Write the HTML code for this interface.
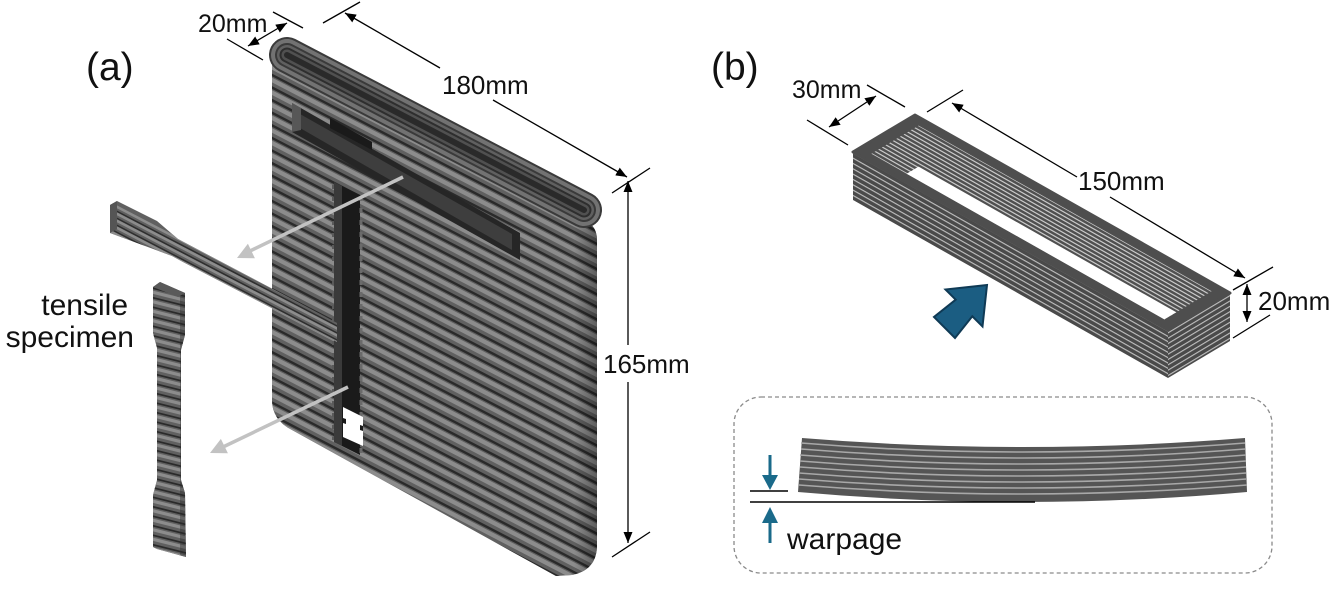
<!DOCTYPE html>
<html><head><meta charset="utf-8"><style>
html,body{margin:0;padding:0;background:#fff;}
svg{display:block;}
text{font-family:"Liberation Sans",Arial,sans-serif;fill:#111;}
</style></head><body>
<svg width="1339" height="595" viewBox="0 0 1339 595" xmlns="http://www.w3.org/2000/svg">
<defs>
  <pattern id="pRing" patternUnits="userSpaceOnUse" width="40" height="5.33" patternTransform="skewY(29.5)">
    <rect width="40" height="5.33" fill="#4a4a4a"/><rect y="0" width="40" height="1.3" fill="#bdbdbd"/>
  </pattern>
  <pattern id="pRingR" patternUnits="userSpaceOnUse" width="40" height="5.33" patternTransform="skewY(-31)">
    <rect width="40" height="5.33" fill="#4a4a4a"/><rect y="0" width="40" height="1.3" fill="#bdbdbd"/>
  </pattern>
  <pattern id="pInner" patternUnits="userSpaceOnUse" width="40" height="4.2" patternTransform="skewY(29.5)">
    <rect width="40" height="4.2" fill="#505050"/><rect y="0" width="40" height="1.4" fill="#c8c8c8"/>
  </pattern>
  <linearGradient id="gEnd" x1="0" y1="0" x2="1" y2="0">
    <stop offset="0" stop-color="#000" stop-opacity="0"/><stop offset="1" stop-color="#000" stop-opacity="0.35"/>
  </linearGradient>
  <marker id="ah" markerUnits="userSpaceOnUse" markerWidth="12" markerHeight="10" refX="11" refY="4.5" orient="auto-start-reverse">
    <path d="M0,0 L11,4.5 L0,9 Z" fill="#000"/>
  </marker>
  <clipPath id="cFace"><path d="M272,58 L588,222 Q597,228 597,240 L597,545 Q597,570 572,575 L556,576 L292,430 Q272,420 272,400 Z"/></clipPath>
  <clipPath id="cBar"><polygon points="110,205 117,201 157,221 178,239 337,323 337,342 183,262 172,256 110,233"/></clipPath>
  <clipPath id="cVs"><polygon points="153,287 160,282 185,293 185,335 181,350 181,480 185,493 186,557 157,549 153,547 153,495 157,480 157,348 153,333"/></clipPath>
  <clipPath id="cOpen"><polygon points="918.6,125.6 1211.6,291.2 1164.4,319.4 871.4,153.8"/></clipPath>
</defs>

<!-- ===== Panel (a) ===== -->
<text x="86" y="80" font-size="39">(a)</text>

<!-- slab front face -->
<path d="M272,58 L588,222 Q597,228 597,240 L597,545 Q597,570 572,575 L556,576 L292,430 Q272,420 272,400 Z" fill="#606060"/>
<g clip-path="url(#cFace)" fill="none">
  <path stroke="#8c8c8c" stroke-width="4.2" d="M260,36 l350,182 m-350,-169.4 l350,182 m-350,-169.4 l350,182 m-350,-169.4 l350,182 m-350,-169.4 l350,182 m-350,-169.4 l350,182 m-350,-169.4 l350,182 m-350,-169.4 l350,182 m-350,-169.4 l350,182 m-350,-169.4 l350,182 m-350,-169.4 l350,182 m-350,-169.4 l350,182 m-350,-169.4 l350,182 m-350,-169.4 l350,182 m-350,-169.4 l350,182 m-350,-169.4 l350,182 m-350,-169.4 l350,182 m-350,-169.4 l350,182 m-350,-169.4 l350,182 m-350,-169.4 l350,182 m-350,-169.4 l350,182 m-350,-169.4 l350,182 m-350,-169.4 l350,182 m-350,-169.4 l350,182 m-350,-169.4 l350,182 m-350,-169.4 l350,182 m-350,-169.4 l350,182 m-350,-169.4 l350,182 m-350,-169.4 l350,182 m-350,-169.4 l350,182 m-350,-169.4 l350,182 m-350,-169.4 l350,182"/>
  <path stroke="#2a2a2a" stroke-width="2.4" d="M260,43.5 l350,182 m-350,-169.4 l350,182 m-350,-169.4 l350,182 m-350,-169.4 l350,182 m-350,-169.4 l350,182 m-350,-169.4 l350,182 m-350,-169.4 l350,182 m-350,-169.4 l350,182 m-350,-169.4 l350,182 m-350,-169.4 l350,182 m-350,-169.4 l350,182 m-350,-169.4 l350,182 m-350,-169.4 l350,182 m-350,-169.4 l350,182 m-350,-169.4 l350,182 m-350,-169.4 l350,182 m-350,-169.4 l350,182 m-350,-169.4 l350,182 m-350,-169.4 l350,182 m-350,-169.4 l350,182 m-350,-169.4 l350,182 m-350,-169.4 l350,182 m-350,-169.4 l350,182 m-350,-169.4 l350,182 m-350,-169.4 l350,182 m-350,-169.4 l350,182 m-350,-169.4 l350,182 m-350,-169.4 l350,182 m-350,-169.4 l350,182 m-350,-169.4 l350,182 m-350,-169.4 l350,182 m-350,-169.4 l350,182"/>
  <rect x="574" y="180" width="24" height="400" fill="url(#gEnd)"/>
</g>

<!-- top stadium -->
<g stroke-linecap="round" fill="none">
  <line x1="287" y1="55" x2="584" y2="210" stroke="#3a3a3a" stroke-width="36"/>
  <line x1="287" y1="55" x2="584" y2="210" stroke="#727272" stroke-width="32"/>
  <line x1="287" y1="55" x2="584" y2="210" stroke="#3a3a3a" stroke-width="24"/>
  <line x1="287" y1="55" x2="584" y2="210" stroke="#606060" stroke-width="20"/>
  <line x1="287" y1="55" x2="584" y2="210" stroke="#2e2e2e" stroke-width="15"/>
  <line x1="287" y1="55" x2="584" y2="210" stroke="#505050" stroke-width="11"/>
  <line x1="287" y1="55" x2="584" y2="210" stroke="#2a2a2a" stroke-width="6"/>
</g>

<!-- horizontal slot -->
<polygon points="292,103 520,233 520,260 292,132" fill="#262626"/>
<polygon points="300,114 512,234 512,250 300,128" fill="#3e3e3e"/>
<polygon points="292,103 301,108 301,130 292,132" fill="#575757"/>
<polygon points="330,118 372,142 372,150 330,128" fill="#1a1a1a"/>

<!-- vertical slot -->
<polygon points="334,182 360,195 360,455 334,442" fill="#1a1a1a"/>
<polygon points="334,182 342,186 342,446 334,442" fill="#3a3a3a"/>
<line x1="361" y1="196" x2="361" y2="455" stroke="#6a6a6a" stroke-width="3" stroke-dasharray="5 7"/>
<line x1="333" y1="185" x2="333" y2="440" stroke="#5a5a5a" stroke-width="2" stroke-dasharray="4 8"/>
<polygon points="343,407 363,417 363,446 343,437" fill="#fff"/>
<polygon points="343,418 346,419 346,424 343,423" fill="#1a1a1a"/>
<polygon points="360,425 363,426 363,431 360,430" fill="#1a1a1a"/>

<!-- horizontal tensile specimen -->
<polygon points="110,205 117,201 157,221 178,239 337,323 337,342 183,262 172,256 110,233" fill="#606060"/>
<g clip-path="url(#cBar)" fill="none">
  <path stroke="#8c8c8c" stroke-width="2.6" d="M100,198 l240,125 m-240,-118 l240,125 m-240,-118 l240,125 m-240,-118 l240,125 m-240,-118 l240,125 m-240,-118 l240,125"/>
  <path stroke="#2e2e2e" stroke-width="1.5" d="M100,202.5 l240,125 m-240,-118 l240,125 m-240,-118 l240,125 m-240,-118 l240,125 m-240,-118 l240,125 m-240,-118 l240,125"/>
</g>
<polygon points="110,205 117,201 117,229 110,233" fill="#555"/>

<!-- vertical tensile specimen -->
<polygon points="153,287 160,282 185,293 185,335 181,350 181,480 185,493 186,557 157,549 153,547 153,495 157,480 157,348 153,333" fill="#606060"/>
<g clip-path="url(#cVs)" fill="none">
  <path stroke="#8c8c8c" stroke-width="3.2" d="M148,272 l42,10.5 m-42,-1 l42,10.5 m-42,-1 l42,10.5 m-42,-1 l42,10.5 m-42,-1 l42,10.5 m-42,-1 l42,10.5 m-42,-1 l42,10.5 m-42,-1 l42,10.5 m-42,-1 l42,10.5 m-42,-1 l42,10.5 m-42,-1 l42,10.5 m-42,-1 l42,10.5 m-42,-1 l42,10.5 m-42,-1 l42,10.5 m-42,-1 l42,10.5 m-42,-1 l42,10.5 m-42,-1 l42,10.5 m-42,-1 l42,10.5 m-42,-1 l42,10.5 m-42,-1 l42,10.5 m-42,-1 l42,10.5 m-42,-1 l42,10.5 m-42,-1 l42,10.5 m-42,-1 l42,10.5 m-42,-1 l42,10.5 m-42,-1 l42,10.5 m-42,-1 l42,10.5 m-42,-1 l42,10.5 m-42,-1 l42,10.5 m-42,-1 l42,10.5 m-42,-1 l42,10.5"/>
  <path stroke="#2a2a2a" stroke-width="1.8" d="M148,277.5 l42,10.5 m-42,-1 l42,10.5 m-42,-1 l42,10.5 m-42,-1 l42,10.5 m-42,-1 l42,10.5 m-42,-1 l42,10.5 m-42,-1 l42,10.5 m-42,-1 l42,10.5 m-42,-1 l42,10.5 m-42,-1 l42,10.5 m-42,-1 l42,10.5 m-42,-1 l42,10.5 m-42,-1 l42,10.5 m-42,-1 l42,10.5 m-42,-1 l42,10.5 m-42,-1 l42,10.5 m-42,-1 l42,10.5 m-42,-1 l42,10.5 m-42,-1 l42,10.5 m-42,-1 l42,10.5 m-42,-1 l42,10.5 m-42,-1 l42,10.5 m-42,-1 l42,10.5 m-42,-1 l42,10.5 m-42,-1 l42,10.5 m-42,-1 l42,10.5 m-42,-1 l42,10.5 m-42,-1 l42,10.5 m-42,-1 l42,10.5 m-42,-1 l42,10.5 m-42,-1 l42,10.5"/>
  <rect x="180" y="280" width="8" height="280" fill="#2a2a2a" opacity="0.4"/>
</g>
<polygon points="153,287 160,282 185,293 178,297" fill="#5a5a5a"/>

<!-- gray arrows -->
<line x1="403" y1="177" x2="250" y2="251" stroke="#c2c2c2" stroke-width="3.5"/>
<polygon points="237,258 254.9,258.2 247.9,243.8" fill="#c2c2c2"/>
<line x1="348" y1="387" x2="223" y2="447" stroke="#c2c2c2" stroke-width="3.5"/>
<polygon points="210,453 227.9,453.3 220.9,438.9" fill="#c2c2c2"/>

<!-- labels -->
<text x="128" y="315" font-size="30" text-anchor="end">tensile</text>
<text x="134" y="347" font-size="30" text-anchor="end">specimen</text>

<!-- dimensions (a) -->
<g stroke="#000" stroke-width="1.3" fill="none">
  <line x1="273" y1="12" x2="303" y2="28"/>
  <line x1="227" y1="39" x2="263" y2="60"/>
  <line x1="248" y1="46" x2="287" y2="23" marker-start="url(#ah)" marker-end="url(#ah)"/>
  <line x1="323" y1="23" x2="360" y2="2"/>
  <line x1="612" y1="193" x2="650" y2="168"/>
  <line x1="345" y1="13" x2="440" y2="68" marker-start="url(#ah)"/>
  <line x1="493" y1="100" x2="627" y2="177" marker-end="url(#ah)"/>
  <line x1="628" y1="345" x2="628" y2="181" marker-end="url(#ah)"/>
  <line x1="628" y1="382" x2="628" y2="543" marker-end="url(#ah)"/>
  <line x1="612" y1="557" x2="650" y2="532"/>
</g>
<text x="198" y="32" font-size="25">20mm</text>
<text x="442" y="94" font-size="26">180mm</text>
<text x="603" y="373" font-size="26">165mm</text>

<!-- ===== Panel (b) ===== -->
<text x="711" y="80" font-size="39">(b)</text>

<!-- ring side faces -->
<polygon points="853,152 1168,330 1168,378 853,200" fill="url(#pRing)"/>
<polygon points="1168,330 1230,293 1230,341 1168,378" fill="url(#pRingR)"/>
<!-- top face -->
<polygon points="915,115 853,152 1168,330 1230,293" fill="#4e4e4e" stroke="#4e4e4e" stroke-width="3" stroke-linejoin="round"/>
<polygon points="918.6,125.6 1211.6,291.2 1164.4,319.4 871.4,153.8" fill="url(#pInner)"/>
<polygon points="918.6,166.6 1211.6,332.2 1164.4,360.4 871.4,194.8" fill="#fff" clip-path="url(#cOpen)"/>

<!-- blue arrow -->
<polygon points="987,285 982.5,326.5 972.3,316.3 955,338 934,317 955.7,299.7 945.5,289.5" fill="#1b5d82" stroke="#0f3a55" stroke-width="2" stroke-linejoin="miter"/>

<!-- dimensions (b) -->
<g stroke="#000" stroke-width="1.3" fill="none">
  <line x1="867" y1="85" x2="905" y2="107"/>
  <line x1="807" y1="120" x2="848" y2="145"/>
  <line x1="829" y1="127" x2="876" y2="96" marker-start="url(#ah)" marker-end="url(#ah)"/>
  <line x1="927" y1="112" x2="963" y2="90"/>
  <line x1="952" y1="103" x2="1077" y2="177" marker-start="url(#ah)"/>
  <line x1="1110" y1="197" x2="1245" y2="278" marker-end="url(#ah)"/>
  <line x1="1233" y1="290" x2="1273" y2="267"/>
  <line x1="1233" y1="338" x2="1270" y2="315"/>
  <line x1="1247" y1="284" x2="1247" y2="322" marker-start="url(#ah)" marker-end="url(#ah)"/>
</g>
<text x="792" y="98" font-size="25">30mm</text>
<text x="1078" y="190" font-size="26">150mm</text>
<text x="1258" y="310" font-size="26">20mm</text>

<!-- dashed box -->
<rect x="734" y="397" width="538" height="176" rx="27" ry="27" fill="none" stroke="#8a8a8a" stroke-width="1.3" stroke-dasharray="4 3"/>

<!-- warped bar -->
<path d="M802,438 Q1022,456 1245,438 L1247,492 Q1022,512 798,492 Z" fill="#555"/>
<g fill="none" stroke="#a8a8a8" stroke-width="1.6">
  <path d="M801,443 Q1022,461 1245,443"/>
  <path d="M801,449 Q1022,467 1245,449"/>
  <path d="M800,455 Q1022,473 1246,455"/>
  <path d="M800,461 Q1022,479 1246,461"/>
  <path d="M800,467 Q1022,485 1246,467"/>
  <path d="M799,473 Q1022,491 1246,473"/>
  <path d="M799,479 Q1022,497 1246,479"/>
  <path d="M799,485 Q1022,503 1247,485"/>
</g>

<!-- warpage markers -->
<g stroke="#000" stroke-width="1.5">
  <line x1="750" y1="491" x2="788" y2="491"/>
  <line x1="750" y1="502" x2="1035" y2="502"/>
</g>
<g fill="#1a6a8a">
  <rect x="768.5" y="455" width="3" height="22"/>
  <polygon points="762,475 778,475 770,490"/>
  <polygon points="770,507 762,523 778,523"/>
  <rect x="768.5" y="521" width="3" height="22"/>
</g>
<text x="787" y="549" font-size="30">warpage</text>
</svg>
</body></html>
